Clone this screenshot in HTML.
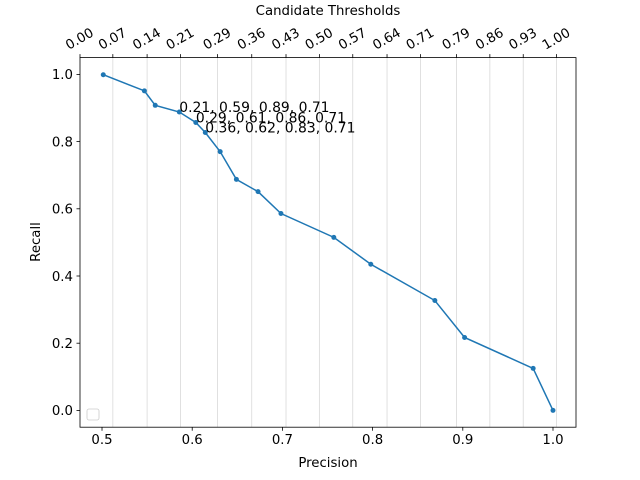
<!DOCTYPE html>
<html><head><meta charset="utf-8"><style>
body{margin:0;background:#fff;}
svg{display:block;font-family:"DejaVu Sans","Liberation Sans",sans-serif;}
</style></head><body>
<svg id="chart" width="640" height="480" viewBox="0 0 640 480" xmlns="http://www.w3.org/2000/svg">
<rect x="0" y="0" width="640" height="480" fill="#fff"/>
<g id="grid"></g>
<g id="series"></g>
<g id="annots"></g>
<rect x="80" y="57.6" width="496" height="369.6" fill="none" stroke="#000" stroke-width="0.8"/>
<g id="axes"></g>
<rect x="87" y="409" width="12" height="11" rx="2" fill="#fff" stroke="#ccc" stroke-width="0.8"/>
<text x="328" y="467" font-size="13.3" text-anchor="middle">Precision</text>
<text transform="translate(40,242) rotate(-90)" font-size="13.3" text-anchor="middle">Recall</text>
<text x="328" y="15" font-size="13.3" text-anchor="middle">Candidate Thresholds</text>
</svg>
<script>
const precision=[0.5014,0.547,0.559,0.5857,0.604,0.6145,0.631,0.649,0.673,0.6984,0.757,0.798,0.869,0.902,0.978,1.0];
const recall=[0.999,0.951,0.908,0.888,0.857,0.827,0.77,0.6875,0.651,0.586,0.515,0.435,0.327,0.217,0.125,0.0];
const annotIdx=[3,4,5];
const annotLabels=["0.21, 0.59, 0.89, 0.71","0.29, 0.61, 0.86, 0.71","0.36, 0.62, 0.83, 0.71"];
const xTicks=[0.5,0.6,0.7,0.8,0.9,1.0];
const yTicks=[0.0,0.2,0.4,0.6,0.8,1.0];
const topTickLabels=["0.00","0.07","0.14","0.21","0.29","0.36","0.43","0.50","0.57","0.64","0.71","0.79","0.86","0.93","1.00"];
const topTickPrecision=[0.4756,0.512,0.550,0.587,0.628,0.666,0.704,0.741,0.778,0.816,0.853,0.893,0.930,0.967,1.004];

const L=80,R=576,T=57.6,B=427.2;
const xmin=0.4756,xmax=1.0255,ymin=-0.05,ymax=1.05;
const sx=v=>L+(v-xmin)/(xmax-xmin)*(R-L);
const sy=v=>B-(v-ymin)/(ymax-ymin)*(B-T);
const NS="http://www.w3.org/2000/svg";
function mk(tag,attrs,parent){const e=document.createElementNS(NS,tag);for(const k in attrs)e.setAttribute(k,attrs[k]);parent.appendChild(e);return e;}
const grid=document.getElementById('grid'),axes=document.getElementById('axes'),series=document.getElementById('series'),annots=document.getElementById('annots');

topTickPrecision.forEach((p,i)=>{
  const x=sx(p);
  if(i>0){const g=mk('line',{x1:x,x2:x,y1:T,y2:B,stroke:'#d9d9d9','stroke-width':0.8},grid);
  
  }
  const t=mk('line',{x1:x,x2:x,y1:T,y2:T-3.5,stroke:'#000','stroke-width':0.8},axes);
  
  
  const lb=mk('text',{transform:`translate(${x},${T-18}) rotate(-30)`,'font-size':13.3,'text-anchor':'middle','dominant-baseline':'central'},axes);
  
  
  lb.textContent=topTickLabels[i];
});
xTicks.forEach(v=>{
  const x=sx(v);
  const t=mk('line',{x1:x,x2:x,y1:B,y2:B+3.5,stroke:'#000','stroke-width':0.8},axes);
  
  
  const lb=mk('text',{x:x,y:B+17,'font-size':13.3,'text-anchor':'middle'},axes);
  
  
  lb.textContent=v.toFixed(1);
});
yTicks.forEach(v=>{
  const y=sy(v);
  const t=mk('line',{x1:L,x2:L-3.5,y1:y,y2:y,stroke:'#000','stroke-width':0.8},axes);
  
  
  const lb=mk('text',{x:L-7,y:y+4.8,'font-size':13.3,'text-anchor':'end'},axes);
  
  
  lb.textContent=v.toFixed(1);
});
const pts=precision.map((p,i)=>sx(p)+','+sy(recall[i])).join(' ');
const line=mk('polyline',{points:pts,fill:'none',stroke:'#1f77b4','stroke-width':1.5},series);


precision.forEach((p,i)=>{
  const c=mk('circle',{cx:sx(p),cy:sy(recall[i]),r:2.5,fill:'#1f77b4'},series);
  
  
});
annotIdx.forEach((idx,i)=>{
  const t=mk('text',{x:sx(precision[idx]),y:sy(recall[idx]),'font-size':13.9},annots);
  
  
  t.textContent=annotLabels[i];
});
</script>
</body></html>
